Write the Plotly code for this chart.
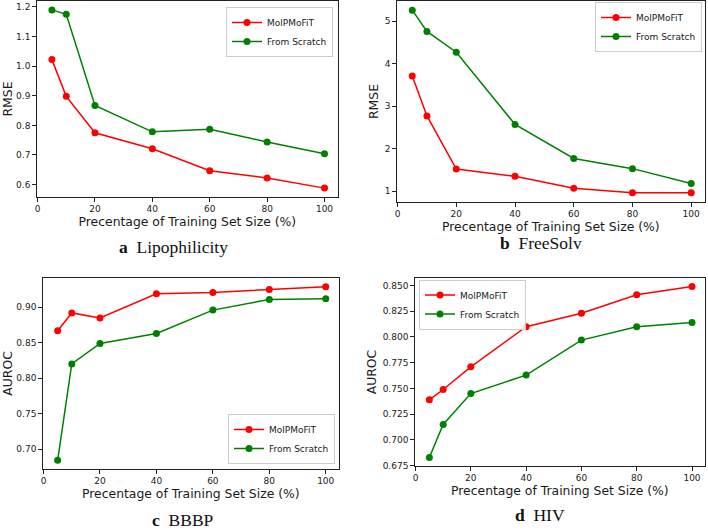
import plotly.graph_objects as go

x_pct = [5, 10, 20, 40, 60, 80, 100]

lipo_molpmofit = [1.022, 0.898, 0.775, 0.721, 0.647, 0.622, 0.588]
lipo_scratch = [1.190, 1.175, 0.867, 0.778, 0.787, 0.744, 0.704]

freesolv_molpmofit = [3.71, 2.77, 1.52, 1.35, 1.07, 0.96, 0.96]
freesolv_scratch = [5.26, 4.76, 4.27, 2.57, 1.77, 1.53, 1.18]

bbbp_molpmofit = [0.867, 0.892, 0.885, 0.919, 0.921, 0.925, 0.929]
bbbp_scratch = [0.684, 0.820, 0.849, 0.863, 0.896, 0.911, 0.912]

hiv_molpmofit = [0.739, 0.749, 0.771, 0.810, 0.823, 0.841, 0.849]
hiv_scratch = [0.683, 0.715, 0.745, 0.763, 0.797, 0.810, 0.814]

series_names = ["MolPMoFiT", "From Scratch"]
captions = ["a", "b", "c", "d"]
caption_names = ["Lipophilicity", "FreeSolv", "BBBP", "HIV"]
y_titles = ["RMSE", "RMSE", "AUROC", "AUROC"]
x_title = "Precentage of Training Set Size (%)"
x_ticks = [0, 20, 40, 60, 80, 100]

W, H = 708, 530
RED = "#ff0000"
GREEN = "#008000"
FONT = "DejaVu Sans"
TXT = "#1a1a1a"

panels = [
    dict(data=(lipo_molpmofit, lipo_scratch), xdom=(36.7, 338), ydom=(1, 197),
         yrange=[0.558, 1.220], tickvals=[0.6, 0.7, 0.8, 0.9, 1.0, 1.1, 1.2], fmt=".1f",
         legend=dict(x=333 / W, y=1 - 7 / H, xanchor="right", yanchor="top"),
         cap=(173, 247), xstand=4),
    dict(data=(freesolv_molpmofit, freesolv_scratch), xdom=(396.7, 705), ydom=(1, 202),
         yrange=[0.745, 5.475], tickvals=[1, 2, 3, 4, 5], fmt="d",
         legend=dict(x=702 / W, y=1 - 2 / H, xanchor="right", yanchor="top"),
         cap=(541, 243), xstand=2),
    dict(data=(bbbp_molpmofit, bbbp_scratch), xdom=(42.7, 339), ydom=(278, 469),
         yrange=[0.6718, 0.9413], tickvals=[0.70, 0.75, 0.80, 0.85, 0.90], fmt=".2f",
         legend=dict(x=335 / W, y=1 - 464 / H, xanchor="right", yanchor="bottom"),
         cap=(183, 520), xstand=4),
    dict(data=(hiv_molpmofit, hiv_scratch), xdom=(414.7, 705), ydom=(278, 466),
         yrange=[0.6747, 0.8573],
         tickvals=[0.675, 0.700, 0.725, 0.750, 0.775, 0.800, 0.825, 0.850], fmt=".3f",
         legend=dict(x=419 / W, y=1 - 279.5 / H, xanchor="left", yanchor="top"),
         cap=(540, 515), xstand=4),
]

fig = go.Figure()
layout = dict(
    width=W, height=H,
    margin=dict(l=0, r=0, t=0, b=0),
    paper_bgcolor="white", plot_bgcolor="white",
    font=dict(family=FONT, color=TXT, size=9),
    annotations=[],
)

for i, p in enumerate(panels):
    n = "" if i == 0 else str(i + 1)
    xa, ya = "x" + n, "y" + n
    leg = "legend" + n
    for vals, name, col in zip(p["data"], series_names, [RED, GREEN]):
        fig.add_trace(go.Scatter(
            x=x_pct, y=vals, name=name, mode="lines+markers",
            line=dict(color=col, width=1.5),
            marker=dict(color=col, size=7),
            xaxis=xa, yaxis=ya, legend=leg,
        ))
    axis_common = dict(
        showgrid=False, zeroline=False, showline=True, linecolor="#222",
        linewidth=1, mirror=True, ticks="outside", ticklen=3.5, tickwidth=1,
        tickcolor="#222", tickfont=dict(family=FONT, size=9, color=TXT),
        automargin=False,
    )
    layout["xaxis" + n] = dict(
        axis_common,
        domain=[p["xdom"][0] / W, p["xdom"][1] / W],
        range=[-0.3, 104.7], tickvals=x_ticks,
        anchor=ya,
        title=dict(text=x_title, font=dict(family=FONT, size=12.4, color=TXT),
                   standoff=p["xstand"]),
    )
    layout["yaxis" + n] = dict(
        axis_common,
        domain=[1 - p["ydom"][1] / H, 1 - p["ydom"][0] / H],
        range=p["yrange"], tickvals=p["tickvals"], tickformat=p["fmt"],
        anchor=xa,
        title=dict(text=y_titles[i], font=dict(family=FONT, size=12.4, color=TXT), standoff=3),
    )
    layout[leg] = dict(
        p["legend"], bgcolor="rgba(255,255,255,0.85)", bordercolor="#cccccc", borderwidth=1,
        font=dict(family=FONT, size=9, color=TXT), tracegroupgap=0,
        itemwidth=30,
    )
    cx, cy = p["cap"]
    layout["annotations"].append(dict(
        x=cx / W, y=1 - cy / H, xref="paper", yref="paper",
        xanchor="center", yanchor="middle", showarrow=False,
        text="<b>" + captions[i] + "</b>\u00a0\u00a0" + caption_names[i],
        font=dict(family="Liberation Serif", size=17.5, color="#111"),
    ))

fig.update_layout(**layout)
fig.write_html("out.html", config={"displayModeBar": False},
               post_script="document.body.style.margin='0px';")
